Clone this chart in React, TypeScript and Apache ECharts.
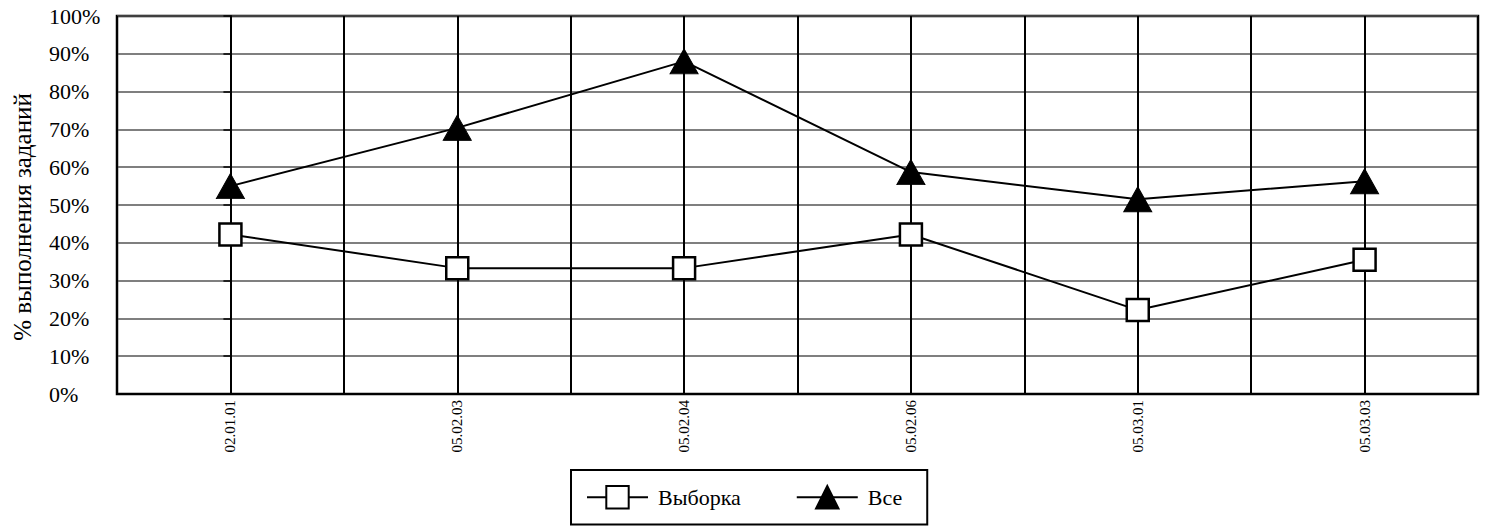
import React, { useEffect, useRef } from "react";
import * as echarts from "echarts";

const categories = ["02.01.01", "05.02.03", "05.02.04", "05.02.06", "05.03.01", "05.03.03"];
const sampleValues = [42.2, 33.3, 33.3, 42.2, 22.2, 35.5];
const allValues = [55, 70.4, 88, 58.7, 51.5, 56.3];
const seriesNames = ["Выборка", "Все"];
const yTitle = "% выполнения заданий";

const FONT = "Liberation Serif";

export default function App() {
  const ref = useRef<HTMLDivElement>(null);
  useEffect(() => {
    if (!ref.current) return;
    const chart = echarts.init(ref.current, null, { renderer: "svg" });
    const toPts = (arr: number[]) => arr.map((v, i) => [i, v]);
    chart.setOption({
      animation: false,
      backgroundColor: "#fff",
      textStyle: { fontFamily: FONT },
      grid: {
        left: 117,
        right: 8,
        top: 16,
        bottom: 136,
        show: true,
        borderColor: "#000",
        borderWidth: 2.5,
        backgroundColor: "transparent",
      },
      xAxis: {
        type: "value",
        min: -0.5,
        max: 5.5,
        interval: 0.5,
        axisLine: { show: true, lineStyle: { color: "#000", width: 2 } },
        axisTick: { show: false },
        splitLine: { show: true, lineStyle: { color: "#000", width: 2 } },
        axisLabel: {
          rotate: 90,
          margin: 6,
          fontFamily: FONT,
          fontSize: 15,
          color: "#000",
          formatter: (v: number) => {
            const r = Math.round(v);
            if (Math.abs(v - r) > 1e-6 || r < 0 || r >= categories.length) return "";
            return categories[r];
          },
        },
      },
      yAxis: {
        type: "value",
        min: 0,
        max: 100,
        interval: 10,
        axisLine: { show: true, lineStyle: { color: "#000", width: 2 } },
        axisTick: { show: true, length: 7, lineStyle: { color: "#000", width: 1.5 } },
        splitLine: { show: true, lineStyle: { color: "#555", width: 1.5 } },
        axisLabel: {
          margin: 68,
          align: "left",
          fontFamily: FONT,
          fontSize: 22,
          color: "#000",
          formatter: "{value}%",
        },
      },
      legend: {
        left: 571,
        top: 470,
        orient: "horizontal",
        itemWidth: 61,
        itemHeight: 28,
        itemGap: 55,
        padding: [15, 25, 15, 15],
        borderColor: "#000",
        borderWidth: 2,
        backgroundColor: "#fff",
        textStyle: { fontFamily: FONT, fontSize: 22, color: "#000", padding: [0, 0, 0, 5] },
        data: seriesNames,
      },
      graphic: [
        {
          type: "text",
          x: 22,
          y: 217,
          rotation: Math.PI / 2,
          style: {
            text: yTitle,
            fontFamily: FONT,
            fontSize: 25,
            fill: "#000",
            align: "center",
            verticalAlign: "middle",
          },
        },
      ],
      series: [
        {
          name: seriesNames[0],
          type: "line",
          data: toPts(sampleValues),
          symbol: "rect",
          symbolSize: 22,
          lineStyle: { color: "#000", width: 2 },
          itemStyle: { color: "#fff", borderColor: "#000", borderWidth: 2.5 },
          z: 3,
        },
        {
          name: seriesNames[1],
          type: "line",
          data: toPts(allValues),
          symbol: "triangle",
          symbolSize: [28, 25],
          lineStyle: { color: "#000", width: 2 },
          itemStyle: { color: "#000", borderColor: "#000", borderWidth: 1 },
          z: 3,
        },
      ],
    });
    return () => chart.dispose();
  }, []);
  return (
    <div
      ref={ref}
      style={{ position: "fixed", left: 0, top: 0, width: 1486, height: 530, background: "#fff" }}
    />
  );
}
